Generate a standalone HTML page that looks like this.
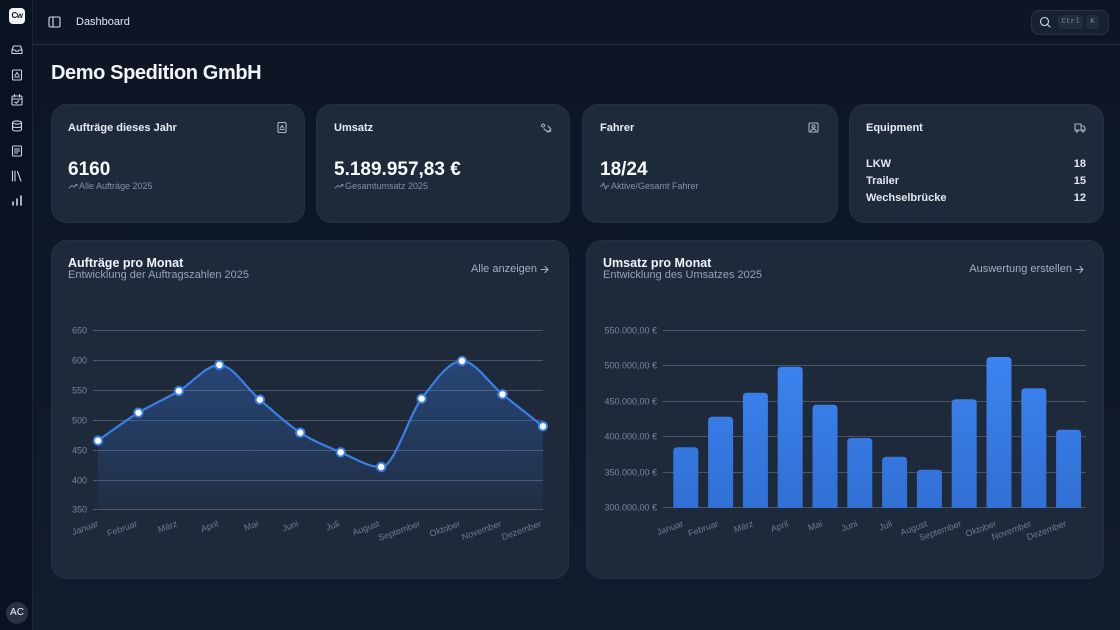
<!DOCTYPE html>
<html><head><meta charset="utf-8">
<style>
*{margin:0;padding:0;box-sizing:border-box}
body{width:1120px;height:630px;overflow:hidden;background:#0f1727;font-family:"Liberation Sans",sans-serif;position:relative;color:#e2e8f0}
.main{position:absolute;left:33px;top:0;width:1087px;height:630px;background:linear-gradient(180deg,#0e1626 0%,#0f1828 60%,#131c2d 100%)}
.side{position:absolute;left:0;top:0;width:33px;height:630px;background:#0a1120;border-right:1px solid #1b2536}
.hdr{position:absolute;left:33px;top:0;width:1087px;height:45px;border-bottom:1px solid #243044}
.card{position:absolute;background:#1e2939;border:1px solid #253143;border-radius:16px}
.abs{position:absolute;white-space:nowrap}
.ct{font-size:11px;font-weight:bold;color:#e8edf4}
.val{font-size:19px;font-weight:bold;color:#f8fafc}
.sub{font-size:9px;color:#8391a6}
.eq{font-size:11px;color:#e2e8f0;font-weight:bold}
.h2{font-size:12.5px;font-weight:bold;color:#f1f5f9}
.h3{font-size:11px;color:#94a3b8}
.lnk{font-size:11px;color:#a3aec0;text-align:right}
</style></head><body>
<div class="main"></div>
<div class="side"></div>
<div class="hdr"></div>

<!-- logo -->
<div class="abs" style="left:9px;top:8px;width:16px;height:16px;background:#f3f4f6;border-radius:4px;color:#0b1220;font-size:8px;font-weight:bold;text-align:center;line-height:16px;letter-spacing:-0.5px">Cw</div>
<!-- avatar -->
<div class="abs" style="left:6px;top:602px;width:22px;height:22px;border-radius:11px;background:#283244;color:#f1f5f9;font-size:10px;text-align:center;line-height:22px">AC</div>

<div class="abs" style="left:76px;top:16px;font-size:11px;color:#e2e8f0">Dashboard</div>
<!-- search -->
<div class="abs" style="left:1031px;top:10px;width:78px;height:25px;border-radius:8px;background:#182131;border:1px solid #283346"></div>
<div class="abs" style="left:1058px;top:15px;width:25px;height:14px;border-radius:3px;background:#222c3c;color:#7d8899;font-family:'Liberation Mono',monospace;font-size:7.5px;text-align:center;line-height:14px">Ctrl</div>
<div class="abs" style="left:1086px;top:15px;width:13px;height:14px;border-radius:3px;background:#222c3c;color:#7d8899;font-family:'Liberation Mono',monospace;font-size:7.5px;text-align:center;line-height:14px">K</div>

<div class="abs" style="left:51px;top:62px;font-size:20px;font-weight:bold;color:#f1f5f9;letter-spacing:-0.4px">Demo Spedition GmbH</div>

<!-- stat cards -->
<div class="card" style="left:51px;top:104px;width:254px;height:119px"></div>
<div class="card" style="left:316px;top:104px;width:254px;height:119px"></div>
<div class="card" style="left:582px;top:104px;width:256px;height:119px"></div>
<div class="card" style="left:849px;top:104px;width:255px;height:119px"></div>

<div class="abs ct" style="left:68px;top:122px">Aufträge dieses Jahr</div>
<div class="abs val" style="left:68px;top:159px">6160</div>
<div class="abs sub" style="left:79px;top:181px">Alle Aufträge 2025</div>

<div class="abs ct" style="left:334px;top:122px">Umsatz</div>
<div class="abs val" style="left:334px;top:159px">5.189.957,83 €</div>
<div class="abs sub" style="left:345px;top:181px">Gesamtumsatz 2025</div>

<div class="abs ct" style="left:600px;top:122px">Fahrer</div>
<div class="abs val" style="left:600px;top:159px">18/24</div>
<div class="abs sub" style="left:611px;top:181px">Aktive/Gesamt Fahrer</div>

<div class="abs ct" style="left:866px;top:122px">Equipment</div>
<div class="abs eq" style="left:866px;top:158px">LKW</div>
<div class="abs eq" style="left:866px;top:175px">Trailer</div>
<div class="abs eq" style="left:866px;top:192px">Wechselbrücke</div>
<div class="abs eq" style="left:1060px;top:158px;width:26px;text-align:right">18</div>
<div class="abs eq" style="left:1060px;top:175px;width:26px;text-align:right">15</div>
<div class="abs eq" style="left:1060px;top:192px;width:26px;text-align:right">12</div>

<!-- chart cards -->
<div class="card" style="left:51px;top:240px;width:518px;height:339px"></div>
<div class="card" style="left:586px;top:240px;width:518px;height:339px"></div>

<div class="abs h2" style="left:68px;top:256px">Aufträge pro Monat</div>
<div class="abs h3" style="left:68px;top:269px">Entwicklung der Auftragszahlen 2025</div>
<div class="abs lnk" style="left:437px;top:263px;width:100px">Alle anzeigen</div>

<div class="abs h2" style="left:603px;top:256px">Umsatz pro Monat</div>
<div class="abs h3" style="left:603px;top:269px">Entwicklung des Umsatzes 2025</div>
<div class="abs lnk" style="left:922px;top:263px;width:150px">Auswertung erstellen</div>

<svg class="abs" style="left:0;top:0" width="1120" height="630" viewBox="0 0 1120 630" font-family="Liberation Sans, sans-serif">
<defs>
<linearGradient id="ag" x1="0" y1="0" x2="0" y2="1">
<stop offset="0" stop-color="#3b82f6" stop-opacity="0.32"/>
<stop offset="1" stop-color="#3b82f6" stop-opacity="0.06"/>
</linearGradient>
<linearGradient id="bg" gradientUnits="userSpaceOnUse" x1="0" y1="350" x2="0" y2="508">
<stop offset="0" stop-color="#3d84f2"/>
<stop offset="1" stop-color="#3170d4"/>
</linearGradient>
</defs>

<!-- sidebar icons -->
<g fill="none" stroke="#cbd5e1" stroke-width="1.1" stroke-linejoin="round" stroke-linecap="round">
<path d="M12,50 l1.5,-4 h7 l1.5,4 v3.5 h-10z M12,50 h3 l0.8,1.2 h2.4 l0.8,-1.2 h3"/>
<rect x="12.5" y="70" width="9" height="10" rx="1"/><path d="M14.5,77 h5 M15,75.5 l2,-3 2,3"/>
<rect x="12" y="96" width="10" height="9" rx="1"/><path d="M12,99 h10 M14.5,94.5 v2.5 M19.5,94.5 v2.5 M14.8,102 l1.5,1.2 2.5,-2.5"/>
<ellipse cx="17" cy="122.5" rx="4.5" ry="1.6"/><path d="M12.5,122.5 v7 c0,2 9,2 9,0 v-7 M12.5,126 c0,2 9,2 9,0"/>
<rect x="12.5" y="146" width="9" height="10" rx="1"/><path d="M14.5,149 h5 M14.5,151 h5 M14.5,153 h3"/>
<path d="M12.5,171 v10 M15,171 v10 M17.5,171.5 l3.5,9.5"/>
<path d="M13,205 v-3 M17,205 v-6 M21,205 v-9" stroke-width="1.6"/>
<!-- header toggle -->
<rect x="49" y="17" width="11" height="10" rx="1.5" stroke="#d6dde7"/><path d="M53,17 v10" stroke="#d6dde7"/>
<!-- search -->
<circle cx="1044.5" cy="21.5" r="4" stroke="#d6dde7"/><path d="M1047.5,24.5 l2.5,2.5" stroke="#d6dde7"/>
<!-- stat icons -->
<rect x="278" y="122.5" width="8" height="10" rx="1" stroke="#a8b3c3"/><path d="M280,129.5 h4 M280.5,128 l1.5,-2.5 1.5,2.5" stroke="#a8b3c3"/>
<path d="M543,124 a1.5,1.5 0 1 0 0.1,0 M548,126 l3,3 -3,2.5 M544,129 l4,3 3,-1" stroke="#a8b3c3"/>
<rect x="809" y="123" width="9" height="9" rx="1" stroke="#a8b3c3"/><circle cx="813.5" cy="126.5" r="1.5" stroke="#a8b3c3"/><path d="M811,131 c0,-2.5 5,-2.5 5,0" stroke="#a8b3c3"/>
<path d="M1075,124 h6 v6 h-6z M1081,126 h2.5 l1.5,2 v2 h-4" stroke="#a8b3c3"/><circle cx="1077" cy="131" r="1" stroke="#a8b3c3"/><circle cx="1083" cy="131" r="1" stroke="#a8b3c3"/>
<!-- trend icons -->
<path d="M69,188 l3,-2.5 2,1.5 3,-2.5 M75.5,184.5 h1.5 v1.5" stroke="#8391a6" stroke-width="0.9"/>
<path d="M335,188 l3,-2.5 2,1.5 3,-2.5 M341.5,184.5 h1.5 v1.5" stroke="#8391a6" stroke-width="0.9"/>
<path d="M600,186 h2 l1.5,-3 2,6 1.5,-3 h2" stroke="#8391a6" stroke-width="0.9"/>
<!-- arrows -->
<path d="M541,269.5 h7 M545,266.5 l3,3 -3,3" stroke="#a3aec0"/>
<path d="M1076,269.5 h7 M1080,266.5 l3,3 -3,3" stroke="#a3aec0"/>
</g>

<!-- line chart -->
<g stroke="#4a5568" stroke-width="1">
<line x1="93" x2="543" y1="330.5" y2="330.5"/>
<line x1="93" x2="543" y1="360.5" y2="360.5"/>
<line x1="93" x2="543" y1="390.5" y2="390.5"/>
<line x1="93" x2="543" y1="420.5" y2="420.5"/>
<line x1="93" x2="543" y1="450.5" y2="450.5"/>
<line x1="93" x2="543" y1="480.5" y2="480.5"/>
<line x1="93" x2="543" y1="509.5" y2="509.5"/>
</g>
<g fill="#7b8699" font-size="9" text-anchor="end">
<text x="87" y="333.5">650</text>
<text x="87" y="363.5">600</text>
<text x="87" y="393.5">550</text>
<text x="87" y="423.5">500</text>
<text x="87" y="453.5">450</text>
<text x="87" y="483.5">400</text>
<text x="87" y="512.5">350</text>
</g>
<path fill="url(#ag)" d="M98,440.7 C111.48,430.84 124.97,420.98 138.45,412.7 C151.93,404.42 165.42,398.95 178.9,391 C192.38,383.05 205.87,365 219.35,365 C232.83,365 246.32,388.42 259.8,399.7 C273.28,410.98 286.77,423.93 300.25,432.7 C313.73,441.47 327.22,446.58 340.7,452.3 C354.18,458.02 367.67,467 381.15,467 C394.63,467 408.12,416.37 421.6,398.7 C435.08,381.03 448.57,361 462.05,361 C475.53,361 489.02,383.42 502.5,394.3 C515.98,405.18 529.47,415.74 542.95,426.3 L542.95,509 L98,509 Z"/>
<path fill="none" stroke="#3b7fe6" stroke-width="2.2" d="M98,440.7 C111.48,430.84 124.97,420.98 138.45,412.7 C151.93,404.42 165.42,398.95 178.9,391 C192.38,383.05 205.87,365 219.35,365 C232.83,365 246.32,388.42 259.8,399.7 C273.28,410.98 286.77,423.93 300.25,432.7 C313.73,441.47 327.22,446.58 340.7,452.3 C354.18,458.02 367.67,467 381.15,467 C394.63,467 408.12,416.37 421.6,398.7 C435.08,381.03 448.57,361 462.05,361 C475.53,361 489.02,383.42 502.5,394.3 C515.98,405.18 529.47,415.74 542.95,426.3"/>
<g fill="#ffffff" stroke="#3b7fe6" stroke-width="2">
<circle cx="98" cy="440.7" r="4.2"/>
<circle cx="138.45" cy="412.7" r="4.2"/>
<circle cx="178.9" cy="391" r="4.2"/>
<circle cx="219.35" cy="365" r="4.2"/>
<circle cx="259.8" cy="399.7" r="4.2"/>
<circle cx="300.25" cy="432.7" r="4.2"/>
<circle cx="340.7" cy="452.3" r="4.2"/>
<circle cx="381.15" cy="467" r="4.2"/>
<circle cx="421.6" cy="398.7" r="4.2"/>
<circle cx="462.05" cy="361" r="4.2"/>
<circle cx="502.5" cy="394.3" r="4.2"/>
<circle cx="542.95" cy="426.3" r="4.2"/>
</g>
<g fill="#6f7b8e" font-size="9" text-anchor="end">
<text transform="translate(99,526) rotate(-20)">Januar</text>
<text transform="translate(138,526) rotate(-20)">Februar</text>
<text transform="translate(178,526) rotate(-20)">März</text>
<text transform="translate(219,526) rotate(-20)">April</text>
<text transform="translate(259,526) rotate(-20)">Mai</text>
<text transform="translate(299,526) rotate(-20)">Juni</text>
<text transform="translate(340,526) rotate(-20)">Juli</text>
<text transform="translate(380,526) rotate(-20)">August</text>
<text transform="translate(421,526) rotate(-20)">September</text>
<text transform="translate(461,526) rotate(-20)">Oktober</text>
<text transform="translate(502,526) rotate(-20)">November</text>
<text transform="translate(542,526) rotate(-20)">Dezember</text>
</g>

<!-- bar chart -->
<g stroke="#4a5568" stroke-width="1">
<line x1="663" x2="1086" y1="330.5" y2="330.5"/>
<line x1="663" x2="1086" y1="365.5" y2="365.5"/>
<line x1="663" x2="1086" y1="401.5" y2="401.5"/>
<line x1="663" x2="1086" y1="436.5" y2="436.5"/>
<line x1="663" x2="1086" y1="472.5" y2="472.5"/>
<line x1="663" x2="1086" y1="507.5" y2="507.5"/>
</g>
<g fill="#7b8699" font-size="9" text-anchor="end">
<text x="657" y="333.5">550.000,00 €</text>
<text x="657" y="368.5">500.000,00 €</text>
<text x="657" y="404.5">450.000,00 €</text>
<text x="657" y="439.5">400.000,00 €</text>
<text x="657" y="475.5">350.000,00 €</text>
<text x="657" y="510.5">300.000,00 €</text>
</g>
<g fill="url(#bg)">
<path d="M673.3,508 V451.3 Q673.3,447.3 677.3,447.3 H694.3 Q698.3,447.3 698.3,451.3 V508 Z"/>
<path d="M708.1,508 V420.7 Q708.1,416.7 712.1,416.7 H729.1 Q733.1,416.7 733.1,420.7 V508 Z"/>
<path d="M742.9,508 V396.7 Q742.9,392.7 746.9,392.7 H763.9 Q767.9,392.7 767.9,396.7 V508 Z"/>
<path d="M777.7,508 V370.7 Q777.7,366.7 781.7,366.7 H798.7 Q802.7,366.7 802.7,370.7 V508 Z"/>
<path d="M812.5,508 V408.7 Q812.5,404.7 816.5,404.7 H833.5 Q837.5,404.7 837.5,408.7 V508 Z"/>
<path d="M847.3,508 V442 Q847.3,438 851.3,438 H868.3 Q872.3,438 872.3,442 V508 Z"/>
<path d="M882.1,508 V460.7 Q882.1,456.7 886.1,456.7 H903.1 Q907.1,456.7 907.1,460.7 V508 Z"/>
<path d="M916.9,508 V473.7 Q916.9,469.7 920.9,469.7 H937.9 Q941.9,469.7 941.9,473.7 V508 Z"/>
<path d="M951.7,508 V403.3 Q951.7,399.3 955.7,399.3 H972.7 Q976.7,399.3 976.7,403.3 V508 Z"/>
<path d="M986.5,508 V361 Q986.5,357 990.5,357 H1007.5 Q1011.5,357 1011.5,361 V508 Z"/>
<path d="M1021.3,508 V392.3 Q1021.3,388.3 1025.3,388.3 H1042.3 Q1046.3,388.3 1046.3,392.3 V508 Z"/>
<path d="M1056.1,508 V433.7 Q1056.1,429.7 1060.1,429.7 H1077.1 Q1081.1,429.7 1081.1,433.7 V508 Z"/>
</g>
<g fill="#6f7b8e" font-size="9" text-anchor="end">
<text transform="translate(684,526) rotate(-20)">Januar</text>
<text transform="translate(719,526) rotate(-20)">Februar</text>
<text transform="translate(754,526) rotate(-20)">März</text>
<text transform="translate(789,526) rotate(-20)">April</text>
<text transform="translate(823,526) rotate(-20)">Mai</text>
<text transform="translate(858,526) rotate(-20)">Juni</text>
<text transform="translate(893,526) rotate(-20)">Juli</text>
<text transform="translate(928,526) rotate(-20)">August</text>
<text transform="translate(962,526) rotate(-20)">September</text>
<text transform="translate(997,526) rotate(-20)">Oktober</text>
<text transform="translate(1032,526) rotate(-20)">November</text>
<text transform="translate(1067,526) rotate(-20)">Dezember</text>
</g>
</svg>
</body></html>
